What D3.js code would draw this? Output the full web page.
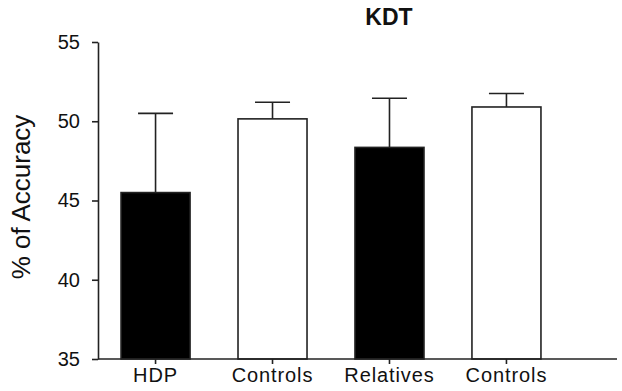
<!DOCTYPE html>
<html>
<head>
<meta charset="utf-8">
<script src="https://cdn.jsdelivr.net/npm/d3@7"></script>
<style>
  html, body { margin: 0; padding: 0; background: #fff; }
  svg text { font-family: "Liberation Sans", Arial, sans-serif; fill: #111; }
</style>
</head>
<body>
<div id="chart"></div>
<script>
// values
const groups = ['HDP', 'Controls', 'Relatives', 'Controls'];
const means = [45.5, 50.15, 48.35, 50.9];
const sems = [5.0, 1.05, 3.1, 0.85];
const yTicks = [35, 40, 45, 50, 55];

const barFill = ['#000', '#fff', '#000', '#fff'];
const ink = '#222';

const W = 622, H = 391;
const svg = d3.select('#chart').append('svg')
    .attr('width', W)
    .attr('height', H);

const y = d3.scaleLinear().domain([35, 55]).range([359, 42]);
const x = d3.scaleBand()
    .domain(groups.map((d, i) => i))
    .range([98, 564])
    .paddingInner(0.41)
    .paddingOuter(0.197);

const rows = groups.map((g, i) => ({ i, g, m: means[i], e: sems[i] }));

// error bars (upper only) behind the bars
const capW = 35;
const eb = svg.append('g').attr('stroke', ink).attr('stroke-width', 1.6);
eb.selectAll('line.stem')
    .data(rows)
    .enter().append('line')
    .attr('class', 'stem')
    .attr('x1', d => x(d.i) + x.bandwidth() / 2)
    .attr('x2', d => x(d.i) + x.bandwidth() / 2)
    .attr('y1', d => y(d.m))
    .attr('y2', d => y(d.m + d.e));
eb.selectAll('line.cap')
    .data(rows)
    .enter().append('line')
    .attr('class', 'cap')
    .attr('x1', d => x(d.i) + x.bandwidth() / 2 - capW / 2)
    .attr('x2', d => x(d.i) + x.bandwidth() / 2 + capW / 2)
    .attr('y1', d => y(d.m + d.e))
    .attr('y2', d => y(d.m + d.e));

svg.append('g').selectAll('rect')
    .data(rows)
    .enter().append('rect')
    .attr('x', d => x(d.i))
    .attr('y', d => y(d.m))
    .attr('width', x.bandwidth())
    .attr('height', d => y(35) - y(d.m))
    .attr('fill', d => barFill[d.i])
    .attr('stroke', ink)
    .attr('stroke-width', 1.6);

// y axis
const yAxis = svg.append('g')
    .attr('transform', 'translate(98,0)')
    .call(d3.axisLeft(y).tickValues(yTicks).tickSize(6).tickSizeOuter(0).tickPadding(12));
yAxis.selectAll('path, line').attr('stroke', ink).attr('stroke-width', 1.6);
yAxis.selectAll('text').style('font-size', '20px').attr('fill', '#111');

// x axis
const xAxis = svg.append('g')
    .attr('transform', `translate(0,${y(35)})`)
    .call(d3.axisBottom(x).tickSize(5).tickSizeOuter(0).tickPadding(4).tickFormat(i => groups[i]));
xAxis.select('.domain').remove();
xAxis.append('line')
    .attr('x1', 98).attr('x2', 617)
    .attr('y1', 0).attr('y2', 0);
xAxis.selectAll('line').attr('stroke', ink).attr('stroke-width', 1.6);
xAxis.selectAll('text')
    .style('font-size', '20px')
    .style('letter-spacing', '0.9px')
    .attr('fill', '#111');

// title and axis label
svg.append('text')
    .attr('x', 389).attr('y', 25)
    .attr('text-anchor', 'middle')
    .style('font-size', '23px')
    .style('font-weight', 'bold')
    .text('KDT');

svg.append('text')
    .attr('transform', 'translate(30,197) rotate(-90)')
    .attr('text-anchor', 'middle')
    .style('font-size', '26px')
    .text('% of Accuracy');
</script>
</body>
</html>
